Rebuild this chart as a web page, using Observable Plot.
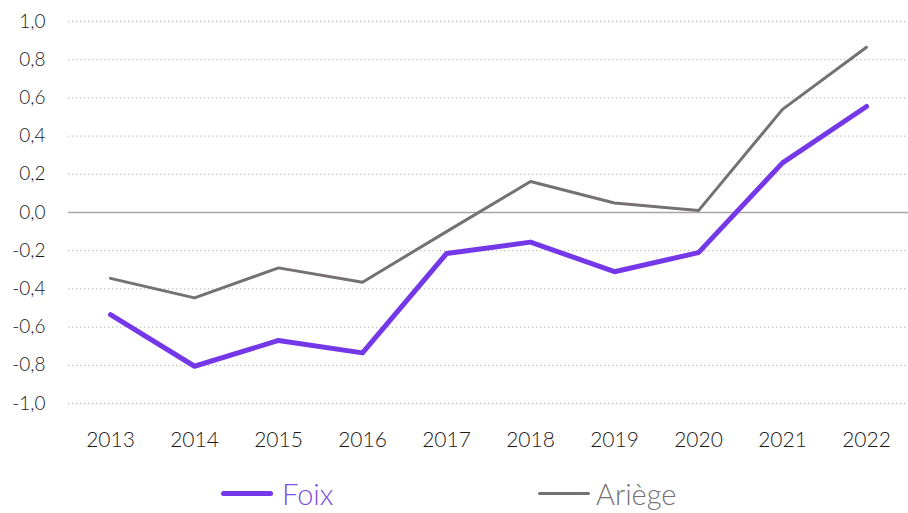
<!DOCTYPE html>
<html><head><meta charset="utf-8">
<script src="https://cdn.jsdelivr.net/npm/d3@7"></script>
<script src="https://cdn.jsdelivr.net/npm/@observablehq/plot@0.6"></script>
<style>
body{margin:0;background:#fff;font-family:Lato,"Open Sans",sans-serif;}
#legend{position:relative;height:50px;font-size:29px;font-weight:300;}
.item{display:flex;align-items:center;position:absolute;line-height:1;}
.sw{display:inline-block;width:52px;border-radius:3px;}
</style></head><body>
<div id="chart"></div>
<div id="legend">
  <div class="item" style="left:221px;top:16px;"><span class="sw" style="height:5px;background:#7438E8;margin-right:9px;"></span><span style="color:#7D4CE8;">Foix</span></div>
  <div class="item" style="left:538px;top:16px;"><span class="sw" style="height:3px;background:#767171;margin-right:6px;"></span><span style="color:#767171;">Ariège</span></div>
</div>
<script>
const years = [2013,2014,2015,2016,2017,2018,2019,2020,2021,2022];
const foix = [-0.535,-0.805,-0.67,-0.735,-0.215,-0.155,-0.31,-0.21,0.26,0.555];
const ariege = [-0.345,-0.447,-0.29,-0.365,-0.10,0.162,0.05,0.01,0.54,0.865];
const yTicks = [-1,-0.8,-0.6,-0.4,-0.2,0,0.2,0.4,0.6,0.8,1];

const fmt = v => d3.format(".1f")(v).replace(".", ",").replace("−","-");
const dF = years.map((y,i)=>({year:y, v:foix[i]}));
const dA = years.map((y,i)=>({year:y, v:ariege[i]}));

const chart = Plot.plot({
  width: 908, height: 463,
  marginLeft: 68, marginRight: 0, marginTop: 21, marginBottom: 60,
  style: {fontFamily: "Lato, 'Open Sans', sans-serif", fontSize: "19px", fontWeight: 300, color: "#1a1a1a", background: "#fff"},
  x: {type: "point", domain: years, padding: 0.5, label: null, tickSize: 0, tickPadding: 29, tickFormat: d => String(d)},
  y: {domain: [-1, 1], ticks: yTicks, tickFormat: fmt, label: null, tickSize: 0, tickPadding: 23},
  marks: [
    Plot.ruleY(yTicks.filter(t => t !== 0), {stroke: "#BFBFBF", strokeWidth: 1.3, strokeDasharray: "1.3,2.7"}),
    Plot.ruleY([0], {stroke: "#A6A6A6", strokeWidth: 1.6}),
    Plot.line(dA, {x: "year", y: "v", stroke: "#767171", strokeWidth: 3, strokeLinejoin: "round", strokeLinecap: "round"}),
    Plot.line(dF, {x: "year", y: "v", stroke: "#7438E8", strokeWidth: 5, strokeLinejoin: "round", strokeLinecap: "round"})
  ]
});
chart.querySelectorAll("[aria-label='x-axis tick label'] text").forEach(t => t.style.fontSize = "21px");
document.getElementById("chart").appendChild(chart);
</script>
</body></html>
